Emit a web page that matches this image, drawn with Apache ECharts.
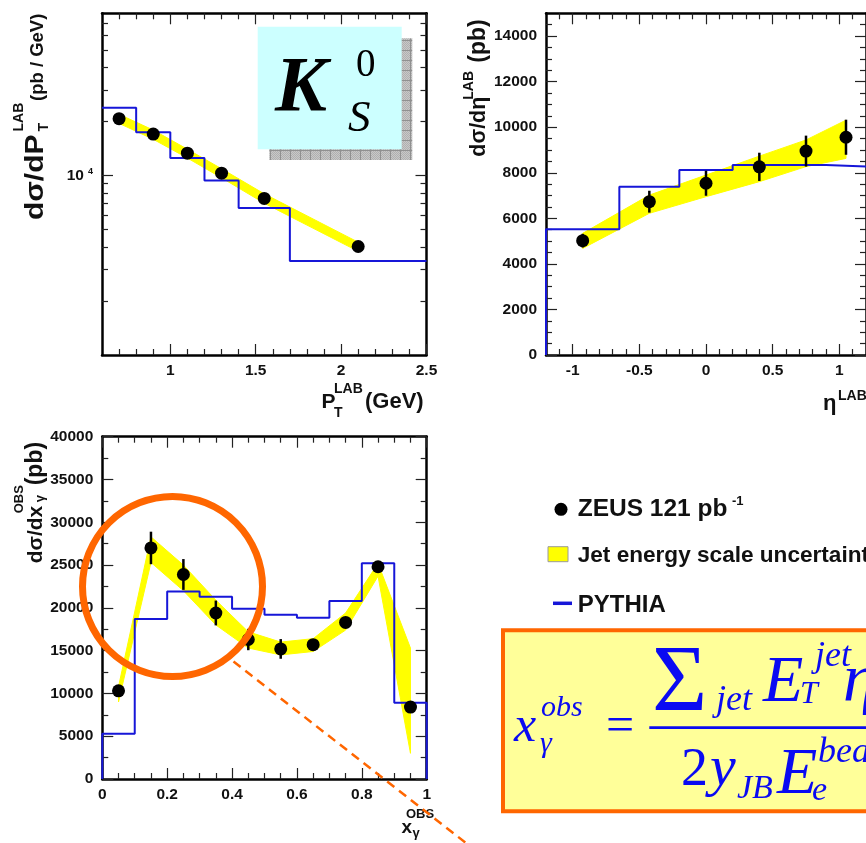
<!DOCTYPE html>
<html>
<head>
<meta charset="utf-8">
<script src="https://cdn.jsdelivr.net/npm/echarts@6/dist/echarts.min.js"></script>
<style>
html, body { margin: 0; padding: 0; background: #fff; }
#c { width: 866px; height: 843px; }
</style>
</head>
<body>
<div id="c"></div>
<script>
// ---------- K0s: d(sigma)/dPt (log scale) ----------
const ptEdges   = [0.6, 0.8, 1.0, 1.2, 1.4, 1.7, 2.5];
const ptCenters = [0.7, 0.9, 1.1, 1.3, 1.55, 2.1];
const ptZeus    = [20700, 17000, 13300, 10300, 7450, 4020];
const ptBandUp  = [21900, 17900, 14000, 10900, 7900, 4250];
const ptBandLo  = [19500, 15900, 12500, 9700, 7000, 3780];
const ptPythia  = [23800, 17400, 12500, 9380, 6580, 3340];
const ptXMajor  = [1, 1.5, 2, 2.5];
const ptXMinor  = [0.7, 0.8, 0.9, 1.1, 1.2, 1.3, 1.4, 1.6, 1.7, 1.8, 1.9, 2.1, 2.2, 2.3, 2.4];
const ptYLabels = [10000];
const ptYMinor  = [2000, 3000, 4000, 5000, 6000, 7000, 8000, 9000, 20000, 30000, 40000, 50000, 60000, 70000];

// ---------- d(sigma)/d(eta) ----------
const etaEdges   = [-1.2, -0.65, -0.2, 0.2, 0.6, 0.9, 1.2];
const etaCenters = [-0.925, -0.425, 0, 0.4, 0.75, 1.05];
const etaZeus    = [5020, 6730, 7540, 8260, 8950, 9560];
const etaErr     = [300, 480, 550, 620, 680, 770];
const etaBandUp  = [5340, 7020, 7900, 8730, 9440, 10310];
const etaBandLo  = [4680, 6220, 6950, 7610, 8270, 8630];
const etaPythia  = [5520, 7390, 8120, 8340, 8340, 8270];
const etaXMajor  = [-1, -0.5, 0, 0.5, 1];
const etaXMinor  = [-1.1, -0.9, -0.8, -0.7, -0.6, -0.4, -0.3, -0.2, -0.1, 0.1, 0.2, 0.3, 0.4, 0.6, 0.7, 0.8, 0.9, 1.1];
const etaYMajor  = [0, 2000, 4000, 6000, 8000, 10000, 12000, 14000];
const etaYMinor  = [500, 1000, 1500, 2500, 3000, 3500, 4500, 5000, 5500, 6500, 7000, 7500, 8500, 9000, 9500,
                    10500, 11000, 11500, 12500, 13000, 13500, 14500];

// ---------- d(sigma)/d(x_gamma obs) ----------
const xgEdges   = [0, 0.1, 0.2, 0.3, 0.4, 0.5, 0.6, 0.7, 0.8, 0.9, 1.0];
const xgCenters = [0.05, 0.15, 0.25, 0.35, 0.45, 0.55, 0.65, 0.75, 0.85, 0.95];
const xgZeus    = [10300, 27000, 23900, 19400, 16300, 15200, 15700, 18300, 24800, 8400];
const xgErr     = [500, 1900, 1800, 1450, 1250, 1150, 500, 500, 500, 500];
const xgBandUp  = [10800, 28300, 25000, 20900, 17200, 16000, 16400, 19400, 25200, 15300];
const xgBandLo  = [9000, 25300, 22000, 18000, 15300, 14500, 14900, 17400, 23700, 3000];
const xgPythia  = [5300, 18700, 21900, 21300, 19900, 19200, 18850, 20800, 25200, 8900];
const xgXMajor  = [0, 0.2, 0.4, 0.6, 0.8, 1];
const xgXMinor  = [0.05, 0.1, 0.15, 0.25, 0.3, 0.35, 0.45, 0.5, 0.55, 0.65, 0.7, 0.75, 0.85, 0.9, 0.95];
const xgYMajor  = [0, 5000, 10000, 15000, 20000, 25000, 30000, 35000, 40000];
const xgYMinor  = [2500, 7500, 12500, 17500, 22500, 27500, 32500, 37500];

const SANS  = '"Liberation Sans", Arial, Helvetica, sans-serif';
const SERIF = '"Liberation Serif", "Times New Roman", serif';
const INK = '#111111';
const HIST_BLUE = '#1616d8';
const BAND_YELLOW = '#ffff00';
const ORANGE = '#ff6600';
const FORMULA_BLUE = '#0a0af2';

const plain = v => String(v);

const panels = [
  {
    rect: { left: 102, top: 13.3, width: 324.5, height: 341.7 },
    x: { min: 0.6, max: 2.5, major: ptXMajor, minor: ptXMinor, labels: ptXMajor, fmt: plain },
    y: { type: 'log', min: 1000, max: 80000, major: ptYLabels, minor: ptYMinor, labels: ptYLabels,
         fmt: () => '{a|10}{s|4}' }
  },
  {
    rect: { left: 546, top: 13.3, width: 323, height: 341.7 },
    x: { min: -1.2, max: 1.2, major: etaXMajor, minor: etaXMinor, labels: etaXMajor, fmt: plain },
    y: { min: 0, max: 15000, major: etaYMajor, minor: etaYMinor, labels: etaYMajor, fmt: plain }
  },
  {
    rect: { left: 102.3, top: 436.7, width: 324.4, height: 342.3 },
    x: { min: 0, max: 1, major: xgXMajor, minor: xgXMinor, labels: xgXMajor, fmt: plain },
    y: { min: 0, max: 40000, major: xgYMajor, minor: xgYMinor, labels: xgYMajor, fmt: plain }
  }
];

const labelFont = { fontFamily: SANS, fontWeight: 'bold', fontSize: 15.5, color: INK };
const grids = [], xAxes = [], yAxes = [], axisRefs = [];

panels.forEach(p => {
  const gMain = grids.length;
  grids.push(Object.assign({ containLabel: false }, p.rect));
  grids.push(Object.assign({ containLabel: false }, p.rect));
  const gMinor = gMain + 1;
  axisRefs.push({ x: xAxes.length, y: yAxes.length });

  ['bottom', 'top'].forEach((pos, k) => {
    xAxes.push({
      type: 'value', gridIndex: gMain, position: pos, min: p.x.min, max: p.x.max,
      axisLine: { show: true, onZero: false, lineStyle: { color: '#000', width: 2.5 } },
      axisTick: { show: true, inside: true, length: 11, customValues: p.x.major, lineStyle: { color: '#222', width: 1.2 } },
      axisLabel: Object.assign({ show: k === 0, customValues: p.x.labels, margin: 8, formatter: p.x.fmt }, labelFont),
      splitLine: { show: false }
    });
    xAxes.push({
      type: 'value', gridIndex: gMinor, position: pos, min: p.x.min, max: p.x.max,
      axisLine: { show: false, onZero: false },
      axisTick: { show: true, inside: true, length: 6, customValues: p.x.minor, lineStyle: { color: '#222', width: 1.2 } },
      axisLabel: { show: false }, splitLine: { show: false }
    });
  });
  ['left', 'right'].forEach((pos, k) => {
    yAxes.push({
      type: p.y.type || 'value', gridIndex: gMain, position: pos, min: p.y.min, max: p.y.max,
      axisLine: { show: true, onZero: false, lineStyle: { color: '#000', width: 2.5 } },
      axisTick: { show: true, inside: true, length: 11, customValues: p.y.major, lineStyle: { color: '#222', width: 1.2 } },
      axisLabel: Object.assign({
        show: k === 0, customValues: p.y.labels, margin: 9, formatter: p.y.fmt,
        rich: {
          a: { fontFamily: SANS, fontWeight: 'bold', fontSize: 15.5, color: INK },
          s: { fontFamily: SANS, fontWeight: 'bold', fontSize: 9, color: INK, verticalAlign: 'top', padding: [0, 0, 0, 4] }
        }
      }, labelFont),
      splitLine: { show: false }
    });
    yAxes.push({
      type: p.y.type || 'value', gridIndex: gMinor, position: pos, min: p.y.min, max: p.y.max,
      axisLine: { show: false, onZero: false },
      axisTick: { show: true, inside: true, length: 6, customValues: p.y.minor, lineStyle: { color: '#222', width: 1.2 } },
      axisLabel: { show: false }, splitLine: { show: false }
    });
  });
});

// helpers building series from the arrays above
function bandSeries(ref, xs, up, lo) {
  return {
    type: 'custom', xAxisIndex: ref.x, yAxisIndex: ref.y, z: 2, silent: true, clip: true,
    data: [0],
    renderItem: (params, api) => {
      const pts = [];
      xs.forEach((x, i) => pts.push(api.coord([x, up[i]])));
      for (let i = xs.length - 1; i >= 0; i--) pts.push(api.coord([xs[i], lo[i]]));
      return { type: 'polygon', shape: { points: pts }, style: { fill: BAND_YELLOW, stroke: BAND_YELLOW, lineWidth: 1 } };
    }
  };
}
function histSeries(ref, edges, vals, closeLeft, closeRight) {
  const pts = [];
  if (closeLeft) pts.push([edges[0], 0]);
  vals.forEach((v, i) => pts.push([edges[i], v]));
  pts.push([edges[edges.length - 1], vals[vals.length - 1]]);
  if (closeRight) pts.push([edges[edges.length - 1], 0]);
  return {
    type: 'line', xAxisIndex: ref.x, yAxisIndex: ref.y, z: 3, silent: true, clip: false,
    step: 'end', showSymbol: false, symbol: 'none', data: pts,
    lineStyle: { color: HIST_BLUE, width: 2 }
  };
}
function errSeries(ref, xs, vals, errs) {
  return {
    type: 'custom', xAxisIndex: ref.x, yAxisIndex: ref.y, z: 4, silent: true,
    data: xs.map((x, i) => [x, vals[i], errs[i]]),
    renderItem: (params, api) => {
      const x = api.value(0), y = api.value(1), e = api.value(2);
      const a = api.coord([x, y - e]), b = api.coord([x, y + e]);
      return { type: 'line', shape: { x1: a[0], y1: a[1], x2: b[0], y2: b[1] }, style: { stroke: '#000', lineWidth: 2.5 } };
    }
  };
}
function dotSeries(ref, xs, vals) {
  return {
    type: 'scatter', xAxisIndex: ref.x, yAxisIndex: ref.y, z: 5, silent: true,
    symbolSize: 13, itemStyle: { color: '#000', opacity: 1 },
    data: xs.map((x, i) => [x, vals[i]])
  };
}

const series = [
  bandSeries(axisRefs[0], ptCenters, ptBandUp, ptBandLo),
  histSeries(axisRefs[0], ptEdges, ptPythia, false, false),
  dotSeries(axisRefs[0], ptCenters, ptZeus),

  bandSeries(axisRefs[1], etaCenters, etaBandUp, etaBandLo),
  histSeries(axisRefs[1], etaEdges, etaPythia, true, false),
  errSeries(axisRefs[1], etaCenters, etaZeus, etaErr),
  dotSeries(axisRefs[1], etaCenters, etaZeus),

  bandSeries(axisRefs[2], xgCenters, xgBandUp, xgBandLo),
  histSeries(axisRefs[2], xgEdges, xgPythia, true, true),
  errSeries(axisRefs[2], xgCenters, xgZeus, xgErr),
  dotSeries(axisRefs[2], xgCenters, xgZeus)
];

// ---------- text helpers (positions given by baseline) ----------
function txt(str, x, baseline, size, o) {
  o = o || {};
  const el = {
    type: 'text', x: x, y: baseline - 0.27 * size, z: o.z || 50,
    style: {
      text: str, fontFamily: o.family || SANS, fontWeight: o.weight || 'bold', fontStyle: o.style || 'normal',
      fontSize: size, fill: o.fill || INK, align: 'left', verticalAlign: 'middle'
    }
  };
  if (o.sx) { el.scaleX = o.sx; }
  return el;
}
function rotTitle(x, y, parts) {
  return {
    type: 'group', x: x, y: y, rotation: Math.PI / 2, z: 50,
    children: parts.map(p => txt(p.t, p.dx, p.dy || 0, p.size, { sx: p.sx }))
  };
}
const serifI = (str, x, b, size) => txt(str, x, b, size, { family: SERIF, weight: 'normal', style: 'italic', fill: FORMULA_BLUE, z: 62 });
const serifR = (str, x, b, size) => txt(str, x, b, size, { family: SERIF, weight: 'normal', style: 'normal', fill: FORMULA_BLUE, z: 62 });

// hatched grey drop shadow
const hatch = document.createElement('canvas');
hatch.width = 10; hatch.height = 10;
(function () {
  const g = hatch.getContext('2d');
  g.fillStyle = '#c8c8c8'; g.fillRect(0, 0, 10, 10);
  g.fillStyle = '#b0b0b0';
  for (let i = 0; i < 10; i++) for (let j = 0; j < 10; j++) if ((i + j) % 2 === 0) g.fillRect(i, j, 1, 1);
  g.fillStyle = '#909090'; g.fillRect(0, 0, 10, 1); g.fillRect(0, 0, 1, 10);
})();

const graphics = [
  // axis titles
  rotTitle(43.3, 220, [
    { t: 'dσ/dP', dx: 0, size: 25, sx: 1.2 },
    { t: 'LAB', dx: 88.5, dy: -20.5, size: 14 },
    { t: 'T', dx: 88.5, dy: 5, size: 14 },
    { t: '(pb / GeV)', dx: 119, size: 18.5 }
  ]),
  txt('P', 321.5, 408, 21),
  txt('LAB', 334, 393, 14),
  txt('T', 334, 417, 14),
  txt('(GeV)', 365, 408, 22),

  rotTitle(485, 156.7, [
    { t: 'dσ/dη', dx: 0, size: 21.5 },
    { t: 'LAB', dx: 57, dy: -12, size: 14 },
    { t: '(pb)', dx: 94, size: 23 }
  ]),
  txt('η', 823, 410, 22),
  txt('LAB', 838, 400, 14),

  rotTitle(41.7, 563.3, [
    { t: 'dσ/dx', dx: 0, size: 21 },
    { t: 'OBS', dx: 50, dy: -18.7, size: 13 },
    { t: 'γ', dx: 61, dy: 2, size: 13 },
    { t: '(pb)', dx: 78, size: 23 }
  ]),
  txt('OBS', 406, 818, 13),
  txt('x', 401.5, 833, 19),
  txt('γ', 412.5, 837, 13),

  // K0s tag
  { type: 'rect', z: 40, shape: { x: 269.3, y: 38.3, width: 143, height: 121.7 }, style: { fill: { image: hatch, repeat: 'repeat' } } },
  { type: 'rect', z: 41, shape: { x: 257.7, y: 26.7, width: 144, height: 122.6 }, style: { fill: '#ccffff' } },
  txt('K', 275, 110.7, 78, { family: SERIF, weight: 'bold', style: 'italic', fill: '#000', z: 42 }),
  txt('0', 356, 76.7, 39, { family: SERIF, weight: 'normal', style: 'normal', fill: '#000', z: 42 }),
  txt('S', 348, 131.7, 45, { family: SERIF, weight: 'normal', style: 'italic', fill: '#000', z: 42 }),

  // highlight circle and pointer
  { type: 'circle', z: 55, shape: { cx: 172.5, cy: 586.5, r: 90 }, style: { fill: 'none', stroke: ORANGE, lineWidth: 7 } },
  { type: 'line', z: 55, shape: { x1: 233.5, y1: 661.5, x2: 466, y2: 843 }, style: { stroke: ORANGE, lineWidth: 2.5, lineDash: [9, 6] } },

  // legend
  { type: 'circle', z: 50, shape: { cx: 561, cy: 509.3, r: 6.5 }, style: { fill: '#000' } },
  txt('ZEUS 121 pb', 577.7, 516, 24.5),
  txt('-1', 732, 505, 13),
  { type: 'rect', z: 50, shape: { x: 548, y: 546.7, width: 20, height: 15 }, style: { fill: BAND_YELLOW, stroke: '#9a9a9a', lineWidth: 1 } },
  txt('Jet energy scale uncertainty', 577.7, 561.7, 22.6),
  { type: 'line', z: 50, shape: { x1: 553, y1: 603.3, x2: 572, y2: 603.3 }, style: { stroke: HIST_BLUE, lineWidth: 3.5 } },
  txt('PYTHIA', 577.7, 611.7, 24),

  // x_gamma^obs definition
  { type: 'rect', z: 60, shape: { x: 503, y: 630.3, width: 420, height: 181 }, style: { fill: '#ffff99', stroke: ORANGE, lineWidth: 4 } },
  { type: 'rect', z: 61, shape: { x: 649.3, y: 726.3, width: 260, height: 2.6 }, style: { fill: FORMULA_BLUE } },
  serifI('x', 514, 741.7, 50),
  serifI('obs', 541, 716, 30),
  serifI('γ', 540, 752, 30),
  serifR('=', 606, 741.7, 50),
  serifR('Σ', 652, 711.7, 95),
  serifI('jet', 716, 710, 36),
  serifI('E', 763, 701.7, 66),
  serifI('jet', 815, 666, 36),
  serifI('T', 800, 703.3, 32),
  serifI('η', 843, 701.7, 68),
  serifR('2', 681, 785, 54),
  serifI('y', 710, 785, 58),
  serifI('JB', 737, 798, 34),
  serifI('E', 777, 793.3, 66),
  serifI('e', 812, 800, 34),
  serifI('beam', 818, 762, 36)
];

const chart = echarts.init(document.getElementById('c'), null, { renderer: 'canvas', width: 866, height: 843 });
chart.setOption({
  animation: false,
  backgroundColor: '#ffffff',
  grid: grids,
  xAxis: xAxes,
  yAxis: yAxes,
  series: series,
  graphic: graphics
});
</script>
</body>
</html>
